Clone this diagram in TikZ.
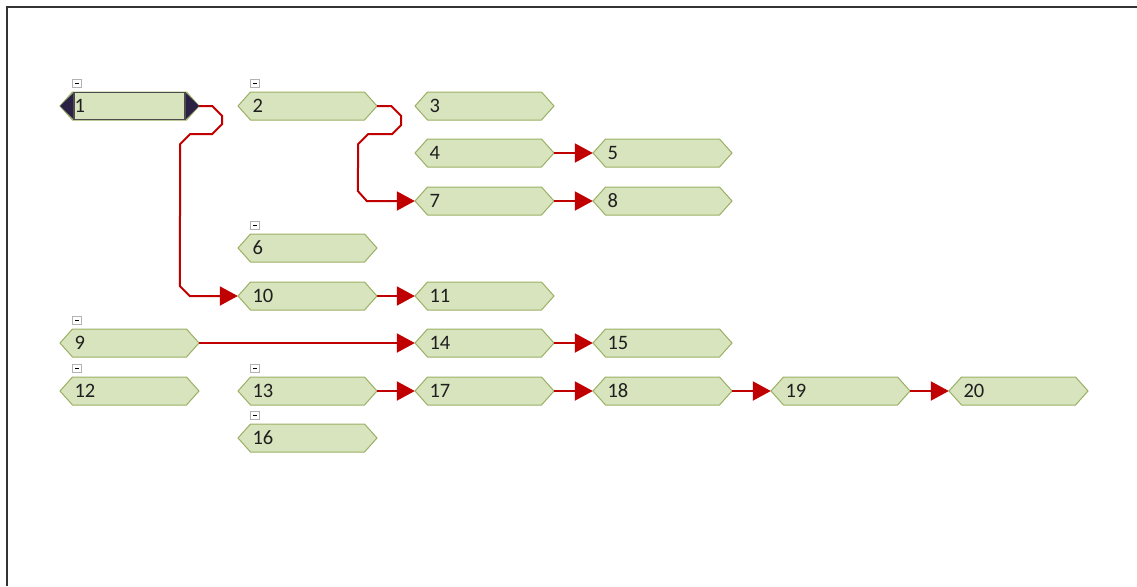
\documentclass[tikz,border=0pt]{standalone}
\usepackage{fontspec}
\setmainfont{Carlito}
\usetikzlibrary{arrows.meta,calc}
\definecolor{hexfill}{HTML}{D7E4BD}
\definecolor{hexline}{HTML}{9BB064}
\definecolor{conn}{HTML}{C00000}
\definecolor{selnavy}{HTML}{2A2144}
\definecolor{txt}{HTML}{1F1F1F}
\tikzset{
  hexn/.style={rectangle, draw=none, minimum width=139pt, minimum height=28pt,
    text width=110pt, inner xsep=14.5pt, inner ysep=0pt, align=left,
    font=\fontsize{20.5}{21}\selectfont, text=txt},
  hexshape/.style={fill=hexfill, draw=hexline, line width=1pt, line join=miter},
  conline/.style={draw=conn, line width=2pt, -{Triangle[length=18pt,width=19pt]}},
  routed/.style={conline, line join=miter},
  minusbox/.style={draw=black!30, fill=white, line width=0.8pt},
  minusbar/.style={draw=black, line width=1pt},
  frameline/.style={draw=black!80, line width=1.2pt}
}
\newcommand\hexpoly[2]{%
  \path[hexshape] ({#1-69.5},{-#2}) -- ({#1-57},{-#2+14}) -- ({#1+57},{-#2+14})
    -- ({#1+69.5},{-#2}) -- ({#1+57},{-#2-14}) -- ({#1-57},{-#2-14}) -- cycle;}
\newcommand\hx[4]{%
  \hexpoly{#2}{#3}%
  \node[hexn] (#1) at (#2,-#3) {#4};}
\newcommand\hxbox[1]{%
  \path[minusbox] ([shift={(13,19)}]#1.west) rectangle ([shift={(22,27)}]#1.west);
  \path[minusbar] ([shift={(15.5,23)}]#1.west) -- ([shift={(19.5,23)}]#1.west);}
\begin{document}
\begin{tikzpicture}[x=1pt,y=1pt]
\useasboundingbox (0,0) rectangle (1137,-586);
\fill[white] (0,0) rectangle (1137,-586);
\draw[frameline] (7,-586) -- (7,-7) -- (1137,-7);

% column centres: 129.5 307.5 484.5 662.5 840.5 1018.5
% selected node 1
\hexpoly{129.5}{106}
\fill[selnavy] (60,-106) -- (74,-92) -- (74,-120) -- cycle;
\fill[selnavy] (185,-92) -- (199,-106) -- (185,-120) -- cycle;
\draw[draw=black!70, line width=1.2pt] (74,-92.5) rectangle (185,-119.5);
\node[hexn] (n1) at (129.5,-106) {1};

\hx{n2}{307.5}{106}{2}
\hx{n3}{484.5}{106}{3}
\hx{n4}{484.5}{153}{4}
\hx{n5}{662.5}{153}{5}
\hx{n7}{484.5}{201}{7}
\hx{n8}{662.5}{201}{8}
\hx{n6}{307.5}{248}{6}
\hx{n10}{307.5}{296}{10}
\hx{n11}{484.5}{296}{11}
\hx{n9}{129.5}{343}{9}
\hx{n14}{484.5}{343}{14}
\hx{n15}{662.5}{343}{15}
\hx{n12}{129.5}{391}{12}
\hx{n13}{307.5}{391}{13}
\hx{n17}{484.5}{391}{17}
\hx{n18}{662.5}{391}{18}
\hx{n19}{840.5}{391}{19}
\hx{n20}{1018.5}{391}{20}
\hx{n16}{307.5}{438}{16}

% collapse boxes
\hxbox{n1}
\hxbox{n2}
\hxbox{n6}
\hxbox{n9}
\hxbox{n12}
\hxbox{n13}
\hxbox{n16}

% connectors
\draw[routed] (n1.east) -- ++(13,0) -- ++(10,-10) -- ++(0,-8) -- ++(-10,-10)
  -- ++(-22,0) -- ++(-10,-10) -- ($(n10.west)+(-58,10)$) -- ($(n10.west)+(-48,0)$) -- (n10.west);
\draw[routed] (n2.east) -- ++(14,0) -- ++(10,-10) -- ++(0,-9) -- ++(-9,-9)
  -- ++(-24,0) -- ++(-10,-10) -- ($(n7.west)+(-57,10)$) -- ($(n7.west)+(-48,0)$) -- (n7.west);
\draw[conline] (n4.east) -- (n5.west);
\draw[conline] (n7.east) -- (n8.west);
\draw[conline] (n10.east) -- (n11.west);
\draw[conline] (n9.east) -- (n14.west);
\draw[conline] (n14.east) -- (n15.west);
\draw[conline] (n13.east) -- (n17.west);
\draw[conline] (n17.east) -- (n18.west);
\draw[conline] (n18.east) -- (n19.west);
\draw[conline] (n19.east) -- (n20.west);
\end{tikzpicture}
\end{document}
